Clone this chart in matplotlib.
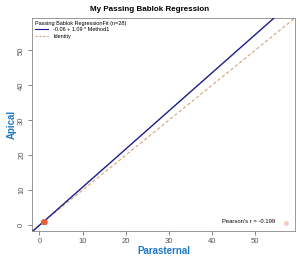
import numpy as np
import matplotlib
matplotlib.use("Agg")
import matplotlib.pyplot as plt
from matplotlib.lines import Line2D

parasternal = [0.8, 0.9, 1.0, 1.1, 1.2, 0.9, 1.0, 1.1, 0.8, 1.0, 1.2, 0.9, 1.1, 1.0,
               0.9, 1.0, 1.1, 1.3, 0.8, 1.0, 0.9, 1.2, 1.0, 1.1, 0.9, 1.0, 1.1, 57.2]
apical = [0.9, 1.0, 0.8, 1.1, 1.0, 1.2, 0.9, 1.0, 1.1, 0.8, 0.9, 1.0, 1.2, 1.1,
          0.9, 1.0, 0.8, 1.1, 1.0, 0.9, 1.2, 1.0, 1.1, 0.9, 1.0, 0.8, 1.0, 0.5]
intercept = -0.06
slope = 1.09
pearson_r = -0.199
ticks = [0, 10, 20, 30, 40, 50]
lim = (-1.7, 59.3)

plt.rcParams["font.family"] = ["Liberation Sans", "DejaVu Sans"]

fig = plt.figure(figsize=(3.0, 2.57), dpi=100)
ax = fig.add_axes([0.107, 0.101, 0.876, 0.829])

xs = np.array(lim)
ax.plot(xs, intercept + slope * xs, color="#1c1c8a", lw=1.0, zorder=3)
ax.plot(xs, xs, color="#d9a27a", lw=0.8, ls=(0, (3, 2)), zorder=2)
ax.scatter(parasternal, apical, s=12, color="#e8603c", alpha=0.35, lw=0, zorder=4)

ax.set_xlim(lim)
ax.set_ylim(lim)
ax.set_xticks(ticks)
ax.set_yticks(ticks)
ax.tick_params(labelsize=5.5, colors="#555555", length=3, width=0.5, pad=2)
plt.setp(ax.get_yticklabels(), rotation=90, va="center")
for s in ax.spines.values():
    s.set_color("#888888")
    s.set_linewidth(0.6)

ax.set_xlabel("Parasternal", fontsize=7, fontweight="bold", color="#1f78c8", labelpad=1)
ax.set_ylabel("Apical", fontsize=7, fontweight="bold", color="#1f78c8", labelpad=1)
fig.suptitle("My Passing Bablok Regression", fontsize=5.8, fontweight="bold", y=0.975)

handles = [Line2D([], [], color="#1c1c8a", lw=0.8),
           Line2D([], [], color="#d9a27a", lw=0.8, ls=(0, (2, 1.5)))]
leg = ax.legend(handles, [f"{intercept} + {slope} * Method1", "Identity"],
                title="Passing Bablok RegressionFit (n=28)", loc="upper left",
                fontsize=4.0, title_fontsize=4.0, frameon=False,
                handlelength=2.2, handletextpad=1.0, borderaxespad=0.3,
                labelspacing=0.2, borderpad=0.3)
leg._legend_box.align = "left"

ax.text(54.7, 1.0, f"Pearson's r = {pearson_r}", fontsize=4.2, ha="right", va="center")

fig.savefig("out.png", dpi=100)
